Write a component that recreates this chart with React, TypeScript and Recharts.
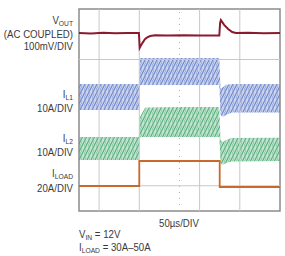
import { ComposedChart, Line, Area, XAxis, YAxis, ReferenceLine, ReferenceArea } from "recharts";

// time in µs (50µs/DIV, 10 divisions), values in screen divisions (0 = bottom, 8 = top)
const tVout = [0, 30, 60, 90, 120, 149, 151, 154, 158, 164, 170, 177, 189, 220, 260, 300, 349, 351, 353, 361, 371, 381, 390, 420, 460, 500];
const vout = [7.05, 7.03, 7.06, 7.04, 7.05, 7.05, 6.46, 6.55, 6.66, 6.8, 6.88, 6.93, 6.96, 6.95, 6.96, 6.95, 6.95, 7.45, 7.56, 7.37, 7.21, 7.09, 7.05, 7.06, 7.04, 7.05];

const tIl1 = [0, 149, 152, 200, 300, 349, 352, 358, 366, 380, 500];
const il1Lo = [4.0, 4.0, 4.99, 4.99, 4.99, 4.99, 3.8, 3.72, 3.8, 3.9, 3.9];
const il1Hi = [5.03, 5.03, 6.06, 6.06, 6.06, 6.06, 4.85, 4.9, 5.0, 5.03, 5.03];

const tIl2 = [0, 149, 151, 156, 165, 250, 349, 352, 358, 366, 380, 500];
const il2Lo = [2.02, 2.02, 2.9, 2.93, 2.93, 2.93, 2.93, 1.9, 1.82, 1.9, 1.96, 1.98];
const il2Hi = [2.93, 2.93, 3.7, 3.85, 4.1, 4.12, 4.12, 2.8, 2.73, 2.82, 2.89, 2.9];

const tLoad = [0, 150, 150, 350, 350, 500];
const iload = [0.99, 0.99, 1.98, 1.98, 0.95, 0.95];

const gridX = [50, 150, 300, 400];
const gridY = [1, 6];

const voutData = tVout.map((t, i) => ({ t, v: vout[i] }));
const il1Data = tIl1.map((t, i) => ({ t, r: [il1Lo[i], il1Hi[i]] }));
const il2Data = tIl2.map((t, i) => ({ t, r: [il2Lo[i], il2Hi[i]] }));
const loadData = tLoad.map((t, i) => ({ t, v: iload[i] }));

const font = "'Liberation Sans', Arial, sans-serif";
const txt = "#3a3a3a";
const sx = 0.84;

function Sub({ s }: { s: string }) {
  return (
    <tspan fontSize={8} dy={2}>
      {s}
    </tspan>
  );
}

export default function App() {
  return (
    <div style={{ position: "absolute", left: 0, top: 0, width: 285, height: 256, background: "#fff" }}>
      <svg width={0} height={0} style={{ position: "absolute" }}>
        <defs>
          <pattern id="hatchBlue" width="4" height="8" patternUnits="userSpaceOnUse">
            <rect width="4" height="8" fill="#c9d3f0" />
            <path d="M-1,8 L3,0 M3,8 L5,4" stroke="#5f78c2" strokeWidth="1" fill="none" />
            <path d="M0.5,0 L1.5,8" stroke="#8fa2d8" strokeWidth="0.7" fill="none" />
          </pattern>
          <pattern id="hatchGreen" width="4" height="8" patternUnits="userSpaceOnUse">
            <rect width="4" height="8" fill="#c0e4cf" />
            <path d="M-1,8 L3,0 M3,8 L5,4" stroke="#44a36c" strokeWidth="1" fill="none" />
            <path d="M0.5,0 L1.5,8" stroke="#80c69d" strokeWidth="0.7" fill="none" />
          </pattern>
        </defs>
      </svg>
      <ComposedChart width={285} height={256} margin={{ top: 9, right: 5, bottom: 45, left: 79 }}>
        <XAxis type="number" dataKey="t" domain={[0, 500]} hide height={0} allowDuplicatedCategory={false} />
        <YAxis type="number" domain={[0, 8]} hide width={0} />
        {gridX.map((x) => (
          <ReferenceLine key={"x" + x} x={x} stroke="#c8c8c8" strokeWidth={1} />
        ))}
        <ReferenceLine x={250} stroke="#b0b0b0" strokeDasharray="1 5" />
        {gridY.map((y) => (
          <ReferenceLine key={"y" + y} y={y} stroke="#c8c8c8" strokeWidth={1} />
        ))}
        <Area data={il1Data} dataKey="r" type="linear" stroke="none" fill="url(#hatchBlue)" fillOpacity={1} isAnimationActive={false} />
        <Area data={il2Data} dataKey="r" type="linear" stroke="none" fill="url(#hatchGreen)" fillOpacity={1} isAnimationActive={false} />
        <Line data={loadData} dataKey="v" type="linear" stroke="#c86a2c" strokeWidth={1.8} dot={false} isAnimationActive={false} />
        <Line data={voutData} dataKey="v" type="linear" stroke="#8a1b2f" strokeWidth={2} dot={false} isAnimationActive={false} />
        <ReferenceArea x1={0} x2={500} y1={0} y2={8} fill="none" stroke="#8c8c8c" strokeWidth={1.5} />
      </ComposedChart>
      <svg width={285} height={256} style={{ position: "absolute", left: 0, top: 0, pointerEvents: "none" }} fontFamily={font} fontSize={11.5} fill={txt}>
        <g transform={`translate(73,0) scale(${sx},1)`} textAnchor="end">
          <text x={0} y={24}>V<Sub s="OUT" /></text>
          <text x={0} y={38}>(AC COUPLED)</text>
          <text x={0} y={50}>100mV/DIV</text>
          <text x={0} y={98}>I<Sub s="L1" /></text>
          <text x={0} y={112}>10A/DIV</text>
          <text x={0} y={142}>I<Sub s="L2" /></text>
          <text x={0} y={156}>10A/DIV</text>
          <text x={0} y={177}>I<Sub s="LOAD" /></text>
          <text x={0} y={192}>20A/DIV</text>
        </g>
        <g transform={`translate(179,0) scale(${sx},1)`} textAnchor="middle">
          <text x={0} y={227}>50µs/DIV</text>
        </g>
        <g transform={`translate(79,0) scale(${sx},1)`}>
          <text x={0} y={238}>V<Sub s="IN" /><tspan dy={-2}> = 12V</tspan></text>
          <text x={0} y={251}>I<Sub s="LOAD" /><tspan dy={-2}> = 30A–50A</tspan></text>
        </g>
      </svg>
    </div>
  );
}
